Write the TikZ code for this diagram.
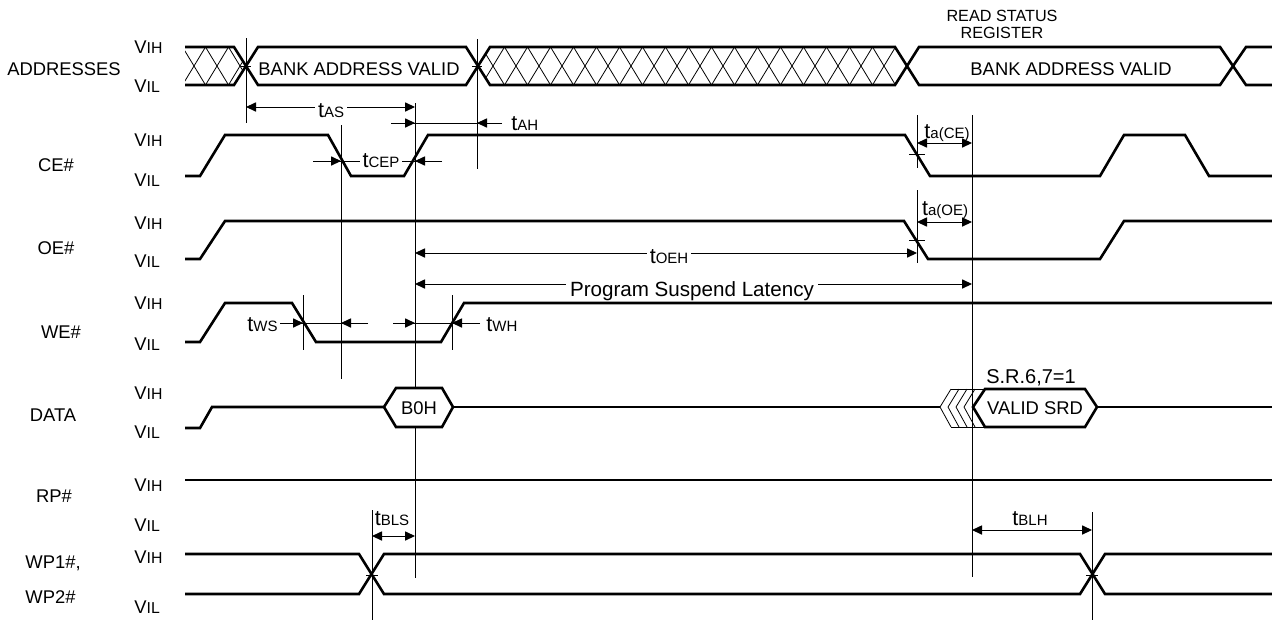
\documentclass[tikz,border=0pt]{standalone}
\usepackage{fontspec}
\setmainfont{Liberation Sans}
\usetikzlibrary{arrows.meta}
\newcommand{\lo}[1]{{\fontsize{7.5}{8}\selectfont #1}}
\newcommand{\tbig}{{\fontsize{10.8}{11}\selectfont t}}
\begin{document}
\begin{tikzpicture}[x=0.5pt,y=-0.5pt,
  wave/.style={line width=1.3pt, line join=miter},
  thin/.style={line width=0.5pt},
  hatch/.style={line width=0.4pt},
  tip/.style={-{Triangle[length=5pt,width=4.6pt]}, line width=0.5pt},
  both/.style={{Triangle[length=5pt,width=4.6pt]}-{Triangle[length=5pt,width=4.6pt]}, line width=0.5pt},
  lbl/.style={font=\fontsize{9.2}{11}\selectfont, inner sep=0pt, text depth=0pt},
  vlbl/.style={lbl, anchor=west},
  tl/.style={lbl, fill=white, inner sep=1.5pt},
  sm/.style={font=\fontsize{8.1}{8.5}\selectfont, inner sep=0pt, align=center}
]
\useasboundingbox (0,0) rectangle (1272,622);

% ---------- signal names ----------
\node[lbl] (addr) at (64,69) {ADDRESSES};
\node[lbl] (ce) at (56,165) {CE\#};
\node[lbl] (oe) at (56,248) {OE\#};
\node[lbl] (we) at (61,332) {WE\#};
\node[lbl] (data) at (53,415) {DATA};
\node[lbl] (rp) at (54,496) {RP\#};
\node[lbl, anchor=west] (wp1) at (25,562) {WP1\#,};
\node[lbl, anchor=west] (wp2) at (25,597) {WP2\#};
\foreach \y/\t in {47/IH, 86/IL, 140/IH, 180/IL, 223/IH, 261/IL, 303/IH, 344/IL, 393/IH, 432/IL, 485/IH, 525/IL, 557/IH, 607/IL}
  \node[vlbl] (v\y) at (134,\y) {V{\fontsize{7.9}{8}\selectfont \t}};

\node[sm] (rsr) at (1002,24) {READ STATUS\\REGISTER};

% ---------- address bus ----------
\begin{scope}
  \clip (185,47) -- (234,47) -- (246,66) -- (234,85) -- (185,85) -- cycle;
  \foreach \c in {171,194,217,240}
    \draw[hatch] (\c-11.5,47) -- (\c+11.5,85) (\c+11.5,47) -- (\c-11.5,85);
\end{scope}
\begin{scope}
  \clip (478,66) -- (490,47) -- (895,47) -- (907,66) -- (895,85) -- (490,85) -- cycle;
  \foreach \k in {0,...,19}
    \draw[hatch] (470+23*\k-11.5,47) -- (470+23*\k+11.5,85) (470+23*\k+11.5,47) -- (470+23*\k-11.5,85);
\end{scope}
\draw[wave] (185,47) -- (234,47) -- (258,85) -- (466,85) -- (490,47) -- (895,47) -- (919,85) -- (1220,85) -- (1246,47) -- (1272,47);
\draw[wave] (185,85) -- (234,85) -- (258,47) -- (466,47) -- (490,85) -- (895,85) -- (919,47) -- (1220,47) -- (1246,85) -- (1272,85);
\node[lbl] (bav1) at (359,69) {BANK ADDRESS VALID};
\node[lbl] (bav2) at (1071,69) {BANK ADDRESS VALID};
\draw[thin] (241,66) -- (251,66) (472,66) -- (482,66);

% ---------- CE# ----------
\draw[wave] (185,176) -- (200,176) -- (225,135) -- (328,135) -- (351,176) -- (404,176) -- (428,135) -- (905,135) -- (930,176) -- (1100,176) -- (1124,135) -- (1185,135) -- (1209,176) -- (1272,176);
% ---------- OE# ----------
\draw[wave] (185,259) -- (200,259) -- (225,221) -- (904,221) -- (928,259) -- (1100,259) -- (1124,221) -- (1272,221);
% ---------- WE# ----------
\draw[wave] (185,342) -- (200,342) -- (225,303) -- (292,303) -- (316,342) -- (441,342) -- (464,303) -- (1272,303);
% ---------- RP# ----------
\draw[wave] (185,480) -- (1272,480);
% ---------- WP# ----------
\draw[wave] (185,554) -- (359,554) -- (384,594) -- (1080,594) -- (1105,554) -- (1272,554);
\draw[wave] (185,594) -- (359,594) -- (384,554) -- (1080,554) -- (1105,594) -- (1272,594);

% ---------- vertical reference lines ----------
\draw[thin] (246,38) -- (246,123);
\draw[thin] (477,39) -- (477,169);
\draw[thin] (415,103) -- (415,578);
\draw[thin] (341,125) -- (341,379);
\draw[thin] (917,115) -- (917,168);
\draw[thin] (917,190) -- (917,263);
\draw[thin] (972,115) -- (972,577);
\draw[thin] (303,295) -- (303,350);
\draw[thin] (452,295) -- (452,350);
\draw[thin] (372,510) -- (372,620);
\draw[thin] (1092,512) -- (1092,620);
% crossing ticks
\draw[thin] (909,154) -- (925,154) (909,240) -- (925,240) (366,575) -- (378,575) (1086,575) -- (1098,575);

% ---------- DATA ----------
\draw[wave] (185,428) -- (200,428) -- (212,407) -- (384,407);
\draw[wave, fill=white] (384,407) -- (396,388) -- (442,388) -- (453,407) -- (442,427) -- (396,427) -- cycle;
\node[lbl] (b0h) at (419,408) {B0H};
\draw[wave] (453,407) -- (940,407);
\foreach \a in {940,948,956,964}
  \draw[hatch] (\a+11,389) -- (\a,407) -- (\a+11,427);
\draw[hatch] (951,389) -- (985,389) (951,427) -- (985,427);
\draw[wave, fill=white] (973,407) -- (985,389) -- (1085,389) -- (1097,407) -- (1085,427) -- (985,427) -- cycle;
\draw[thin] (972,400) -- (972,440);
\node[lbl] (srd) at (1035,408) {VALID SRD};
\node[lbl, font=\fontsize{10}{11}\selectfont] (sr67) at (1031,377) {S.R.6,7=1};
\draw[wave] (1097,407) -- (1272,407);

% ---------- timing arrows ----------
% tAS
\draw[both] (246,107) -- (415,107);
\node[tl] (tas) at (331,111) {\tbig\lo{AS}};
% tAH
\draw[thin] (391,123) -- (502,123);
\draw[tip] (391,123) -- (415,123);
\draw[tip] (502,123) -- (477,123);
\node[lbl, anchor=west] (tah) at (511,124) {\tbig\lo{AH}};
% tCEP
\draw[thin] (313,161) -- (442,161);
\draw[tip] (313,161) -- (341,161);
\draw[tip] (442,161) -- (415,161);
\node[tl] (tcep) at (381,161) {\tbig\lo{CEP}};
% ta(CE), ta(OE)
\draw[both] (917,143) -- (972,143);
\node[lbl] (tace) at (947,132) {\tbig\lo{a(CE)}};
\draw[both] (917,222) -- (972,222);
\node[lbl] (taoe) at (945,209) {\tbig\lo{a(OE)}};
% tOEH
\draw[both] (415,253) -- (917,253);
\node[tl] (toeh) at (669,257) {\tbig\lo{OEH}};
% Program suspend latency
\draw[both] (415,284) -- (972,284);
\node[lbl, font=\fontsize{10.3}{12}\selectfont, fill=white, inner sep=2pt, anchor=base] (psl) at (692,296) {Program Suspend Latency};
% tWS
\draw[thin] (280,323) -- (368,323);
\draw[tip] (280,323) -- (303,323);
\draw[tip] (368,323) -- (341,323);
\node[lbl, anchor=east] (tws) at (278,325) {\tbig\lo{WS}};
% tWH
\draw[thin] (393,323) -- (480,323);
\draw[tip] (393,323) -- (415,323);
\draw[tip] (480,323) -- (452,323);
\node[lbl, anchor=west] (twh) at (486,325) {\tbig\lo{WH}};
% tBLS, tBLH
\draw[both] (372,536) -- (415,536);
\node[lbl] (tbls) at (392,519) {\tbig\lo{BLS}};
\draw[both] (972,530) -- (1092,530);
\node[lbl] (tblh) at (1030,519) {\tbig\lo{BLH}};
\end{tikzpicture}
\end{document}
